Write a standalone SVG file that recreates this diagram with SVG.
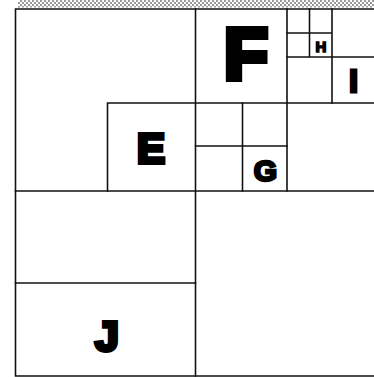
<svg xmlns="http://www.w3.org/2000/svg" width="374" height="377" viewBox="0 0 374 377">
<defs>
<pattern id="dots" width="4" height="4" patternUnits="userSpaceOnUse">
<rect width="4" height="4" fill="#ffffff"/>
<rect x="0" y="0" width="2" height="2" fill="#9a9a9a"/>
<rect x="2" y="2" width="2" height="2" fill="#9a9a9a"/>
</pattern>
</defs>
<style>
.ln{stroke:#111;stroke-width:1.6;fill:none;stroke-linecap:square}
.lbl{font-family:"Liberation Sans",Arial,sans-serif;font-weight:bold;fill:#000;stroke:#000;stroke-linejoin:miter;text-anchor:middle}
</style>
<rect width="374" height="377" fill="#ffffff"/>
<rect x="18" y="0" width="356" height="7.5" fill="url(#dots)"/>
<g id="connectors">
<path class="ln" d="M15.5 9 H374 M15.5 9 V376 H374"/>
<path class="ln" d="M195.5 9 V376"/>
<path class="ln" d="M107.5 103 H374 M107.5 103 V191"/>
<path class="ln" d="M15.5 191 H374"/>
<path class="ln" d="M15.5 283 H195.5"/>
<path class="ln" d="M287 9 V191"/>
<path class="ln" d="M242.5 103 V191 M195.5 146 H287"/>
<path class="ln" d="M309.5 9 V57 M287 33 H332 M332 9 V103 M287 57 H374"/>
</g>
<g id="F"><text class="lbl" x="246" y="79" font-size="72" stroke-width="6">F</text></g>
<g id="E"><text class="lbl" x="151" y="162.5" font-size="42" stroke-width="4">E</text></g>
<g id="G"><text class="lbl" x="265.5" y="181" font-size="30" stroke-width="2.6">G</text></g>
<g id="H"><text class="lbl" x="321" y="51.5" font-size="15" stroke-width="1.6">H</text></g>
<g id="I"><text class="lbl" x="353.5" y="92" font-size="31" stroke-width="3">I</text></g>
<g id="J"><text class="lbl" x="107" y="350.5" font-size="43" stroke-width="4">J</text></g>
</svg>
